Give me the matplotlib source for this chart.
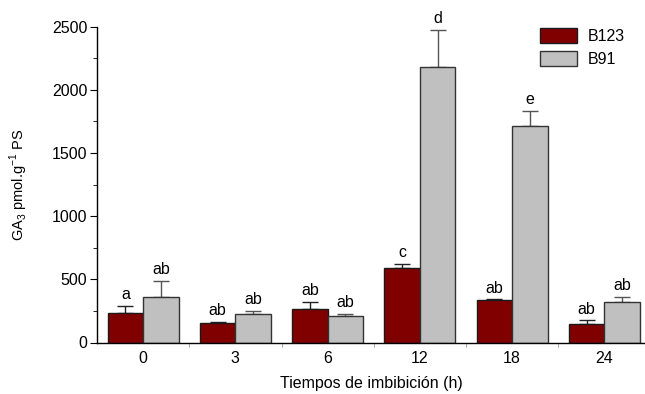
import numpy as np
import matplotlib
matplotlib.use('Agg')
from matplotlib import pyplot as plt
from matplotlib.ticker import MultipleLocator, FixedLocator

plt.rcParams['font.family'] = ['Liberation Sans', 'DejaVu Sans']

tiempos = ['0', '3', '6', '12', '18', '24']
b123 = [231, 156, 267, 589, 336, 143]
b123_err = [57, 6, 53, 36, 5, 32]
b91 = [357, 223, 207, 2180, 1712, 317]
b91_err = [131, 26, 21, 296, 124, 45]
letras_b123 = ['a', 'ab', 'ab', 'c', 'ab', 'ab']
letras_b91 = ['ab', 'ab', 'ab', 'd', 'e', 'ab']

fig = plt.figure(figsize=(6.45, 3.94), dpi=100)
ax = fig.add_axes([97/645, 51.5/394, 548/645, 315.8/394])

x = np.arange(len(tiempos))
w = 0.385

ax.bar(x - w/2, b123, w, color='#800000', edgecolor='#1a1a1a', linewidth=1,
       label='B123', zorder=2)
ax.bar(x + w/2, b91, w, color='#c0c0c0', edgecolor='#333333', linewidth=1,
       label='B91', zorder=2)
ax.errorbar(x - w/2, b123, yerr=[np.zeros(len(b123)), b123_err], fmt='none',
            ecolor='#222222', elinewidth=1, capsize=6, capthick=1, zorder=1)
ax.errorbar(x + w/2, b91, yerr=[np.zeros(len(b91)), b91_err], fmt='none',
            ecolor='#555555', elinewidth=1, capsize=6, capthick=1, zorder=1)

for i in range(len(tiempos)):
    ax.text(x[i] - w/2, b123[i] + b123_err[i] + 30, letras_b123[i],
            ha='center', va='bottom', fontsize=11.5)
    ax.text(x[i] + w/2, b91[i] + b91_err[i] + 30, letras_b91[i],
            ha='center', va='bottom', fontsize=11.5)

ax.set_xlim(-0.5, 5.44)
ax.set_ylim(0, 2500)
ax.set_xticks(x)
ax.set_xticklabels(tiempos)
ax.xaxis.set_minor_locator(FixedLocator(x[:-1] + 0.5))
ax.yaxis.set_major_locator(MultipleLocator(500))
ax.yaxis.set_minor_locator(MultipleLocator(250))
ax.tick_params(axis='x', which='major', length=0, labelsize=11.5, pad=6)
ax.tick_params(axis='x', which='minor', length=3, width=0.6, color='#999999')
ax.tick_params(axis='y', which='major', length=5, labelsize=11.5, pad=2)
ax.tick_params(axis='y', which='minor', length=3)

for s in ['top', 'right']:
    ax.spines[s].set_visible(False)
ax.spines['left'].set_linewidth(1)
ax.spines['bottom'].set_linewidth(1)

ax.set_xlabel('Tiempos de imbibición (h)', fontsize=11.5, labelpad=7)
ax.set_ylabel('GA$_\\mathregular{3}$ pmol.g$^\\mathregular{-1}$ PS',
              fontsize=10.5, labelpad=16)

ax.legend(loc='upper right', bbox_to_anchor=(0.99, 1.04), frameon=False,
          fontsize=11.5, handlelength=2.3, handleheight=1.0, handletextpad=0.7,
          labelspacing=0.45)

fig.savefig('out.png', dpi=100)
